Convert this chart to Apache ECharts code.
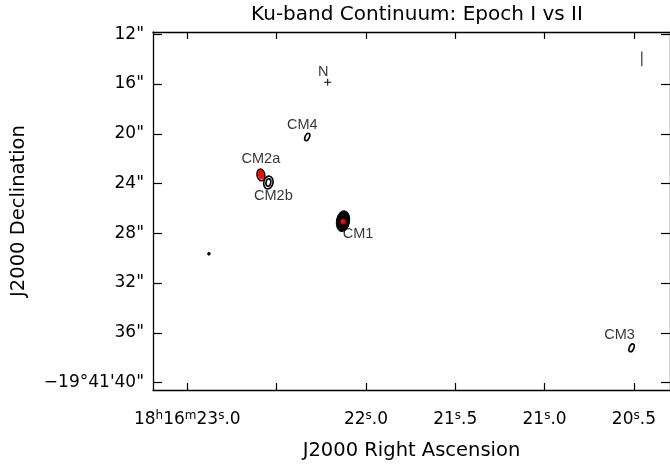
<!DOCTYPE html>
<html><head><meta charset="utf-8">
<script src="https://cdn.jsdelivr.net/npm/echarts@6/dist/echarts.min.js"></script>
<style>html,body{margin:0;padding:0;background:#fff}#c{width:670px;height:466px}</style>
</head><body><div id="c"></div>
<script>
// ---- Axes: RA in seconds of 18h16m, Dec in arcsec of -19°41'
const raTicks = [20.5, 21.0, 21.5, 22.0, 22.5, 23.0];
const raLabelTicks = [20.5, 21.0, 21.5, 22.0, 23.0];
const decTicks = [12, 16, 20, 24, 28, 32, 36, 40];
const raRange = [20.298, 23.192];
const decRange = [11.82, 40.60];

// ---- Named sources (label anchor = source position)
const srcNames = ['CM1', 'CM2a', 'CM2b', 'CM4', 'CM3'];
const srcRA    = [22.1285, 22.588, 22.546, 22.3285, 20.513];
const srcDec   = [27.03, 23.31, 23.90, 20.26, 37.21];

// ---- Epoch I contours (black): ra, dec, semi-major ("), semi-minor ("), PA (deg, + = top to the right)
const ep1RA    = [22.1285, 22.588, 22.546, 22.546, 22.3285, 20.513, 22.879];
const ep1Dec   = [27.03, 23.31, 23.92, 23.92, 20.26, 37.21, 29.65];
const ep1Maj   = [0.84, 0.47, 0.52, 0.30, 0.32, 0.33, 0.11];
const ep1Min   = [0.53, 0.31, 0.37, 0.19, 0.17, 0.18, 0.11];
const ep1PA    = [10, -10, 12, 12, 25, 22, 0];
const ep1Fill  = [true, false, false, false, false, false, true];

// ---- Epoch II contours (red)
const ep2RA  = [22.1285, 22.5875];
const ep2Dec = [27.06, 23.29];
const ep2Maj = [0.20, 0.34];
const ep2Min = [0.17, 0.20];
const ep2PA  = [0, -10];

// ---- North marker and scale bar
const northRA = 22.214, northDec = 15.86;
const barRA = 20.456, barDec = [13.38, 14.57];

const labelOffsets = { CM1: [15, 13], CM2a: [0, -16], CM2b: [5, 14], CM4: [-5, -12], CM3: [-12, -13] };

const AX = '#000';
const tickFont = 'DejaVu Sans';

function raLabel(v) {
  const r = Math.round(v * 10) / 10;
  const ip = Math.floor(r), fp = Math.round((r - ip) * 10);
  if (r === 23) return '{n|18}{s|h}{n|16}{s|m}{n|23}{s|s}{n|.0}';
  return '{n|' + ip + '}{s|s}{n|.' + fp + '}';
}
function decLabel(v) {
  if (v === 40) return '\u221219\u00b041\'40"';
  return v + '"';
}

function ellipseItems(ras, decs, maj, mn, pa, fills) {
  return ras.map((r, i) => [r, decs[i], maj[i], mn[i], pa[i], fills ? (fills[i] ? 1 : 0) : 1]);
}

function renderEllipse(color, lw) {
  return function (params, api) {
    const c = api.coord([api.value(0), api.value(1)]);
    const pxPer = Math.abs(api.size([0, 1])[1]);
    const filled = api.value(5) === 1;
    return {
      type: 'ellipse',
      x: c[0], y: c[1],
      rotation: -api.value(4) * Math.PI / 180,
      shape: { cx: 0, cy: 0, rx: api.value(3) * pxPer, ry: api.value(2) * pxPer },
      style: filled ? { fill: color, stroke: color, lineWidth: 1 }
                    : { fill: 'none', stroke: color, lineWidth: lw }
    };
  };
}

const chart = echarts.init(document.getElementById('c'), null, { renderer: 'canvas' });

const baseX = {
  type: 'value', min: raRange[0], max: raRange[1], inverse: true,
  axisLine: { show: true, onZero: false, lineStyle: { color: AX, width: 1.3 } },
  axisTick: { show: true, inside: true, length: 7, customValues: raTicks, lineStyle: { color: AX, width: 1.2 } },
  splitLine: { show: false }
};
const baseY = {
  type: 'value', min: decRange[0], max: decRange[1], inverse: true,
  axisLine: { show: true, onZero: false, lineStyle: { color: AX, width: 1.3 } },
  axisTick: { show: true, inside: true, length: 9, customValues: decTicks, lineStyle: { color: AX, width: 1.2 } },
  splitLine: { show: false }
};

const option = {
  animation: false,
  backgroundColor: '#fff',
  title: {
    text: 'Ku-band Continuum: Epoch I vs II',
    left: 412, top: 0, textAlign: 'center',
    textStyle: { fontFamily: tickFont, fontSize: 20, fontWeight: 'normal', color: '#000' }
  },
  grid: { left: 153, right: -1, top: 32, bottom: 71, containLabel: false },
  xAxis: [
    Object.assign({}, baseX, {
      position: 'bottom',
      name: 'J2000 Right Ascension', nameLocation: 'middle', nameGap: 51,
      nameTextStyle: { fontFamily: tickFont, fontSize: 19.5, color: '#000' },
      axisLabel: {
        show: true, customValues: raLabelTicks, margin: 20, formatter: raLabel,
        color: '#000',
        rich: {
          n: { fontFamily: tickFont, fontSize: 17, lineHeight: 20, color: '#000' },
          s: { fontFamily: tickFont, fontSize: 12, verticalAlign: 'top', color: '#000' }
        }
      }
    }),
    Object.assign({}, baseX, { position: 'top', axisLabel: { show: false } })
  ],
  yAxis: [
    Object.assign({}, baseY, {
      position: 'left',
      name: 'J2000 Declination', nameLocation: 'middle', nameGap: 124,
      nameTextStyle: { fontFamily: tickFont, fontSize: 19.5, color: '#000' },
      axisLabel: {
        show: true, customValues: decTicks, margin: 9, formatter: decLabel,
        fontFamily: tickFont, fontSize: 17, color: '#000'
      }
    }),
    Object.assign({}, baseY, { position: 'right', axisLabel: { show: false } })
  ],
  series: [
    {
      type: 'custom', xAxisIndex: 0, yAxisIndex: 0, silent: true,
      renderItem: renderEllipse('#000', 1.6),
      data: ellipseItems(ep1RA, ep1Dec, ep1Maj, ep1Min, ep1PA, ep1Fill),
      encode: { x: 0, y: 1 }, z: 2
    },
    {
      type: 'custom', xAxisIndex: 0, yAxisIndex: 0, silent: true,
      renderItem: renderEllipse('#ff0000', 1.2),
      data: ellipseItems(ep2RA, ep2Dec, ep2Maj, ep2Min, ep2PA, null),
      encode: { x: 0, y: 1 }, z: 3
    },
    {
      // north marker "+" and scale bar
      type: 'custom', xAxisIndex: 0, yAxisIndex: 0, silent: true,
      renderItem: function (params, api) {
        if (params.dataIndex === 0) {
          const c = api.coord([api.value(0), api.value(1)]);
          return {
            type: 'group', children: [
              { type: 'line', shape: { x1: c[0] - 3.5, y1: c[1], x2: c[0] + 3.5, y2: c[1] }, style: { stroke: '#000', lineWidth: 1 } },
              { type: 'line', shape: { x1: c[0], y1: c[1] - 3.5, x2: c[0], y2: c[1] + 3.5 }, style: { stroke: '#000', lineWidth: 1 } }
            ]
          };
        }
        const a = api.coord([api.value(0), api.value(1)]);
        const b = api.coord([api.value(0), api.value(2)]);
        return { type: 'line', shape: { x1: a[0], y1: a[1], x2: b[0], y2: b[1] }, style: { stroke: '#444', lineWidth: 1.3 } };
      },
      data: [[northRA, northDec, northDec], [barRA, barDec[0], barDec[1]]],
      encode: { x: 0, y: 1 }, z: 4
    },
    {
      type: 'scatter', xAxisIndex: 0, yAxisIndex: 0, silent: true,
      symbolSize: 0,
      data: srcNames.map((n, i) => ({
        value: [srcRA[i], srcDec[i]], name: n,
        label: { offset: labelOffsets[n] }
      })).concat([{ value: [northRA, northDec], name: 'N', label: { offset: [-4.5, -10] } }]),
      label: {
        show: true, position: 'inside', formatter: '{b}',
        fontFamily: 'Liberation Sans', fontSize: 14.5, color: '#000',
        textBorderWidth: 0
      },
      z: 5
    }
  ]
};
chart.setOption(option);
</script>
</body></html>
